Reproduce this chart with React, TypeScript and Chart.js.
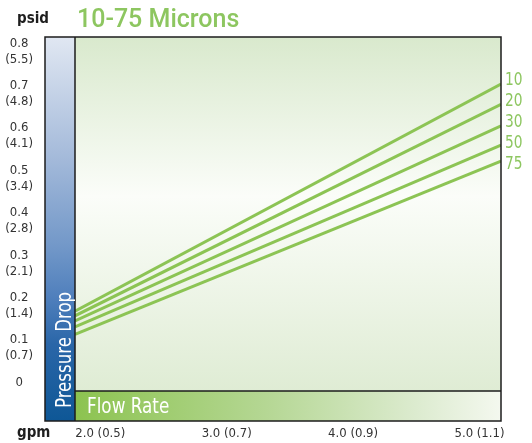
import React, { useEffect, useRef } from "react";
import { Chart, registerables } from "chart.js";

Chart.register(...registerables);

// ---- data ----
const flowGpm = [1.8, 5.17];
const seriesNames = ["10", "20", "30", "50", "75"];
const micron10 = [0.168, 0.704];
const micron20 = [0.157, 0.656];
const micron30 = [0.145, 0.605];
const micron50 = [0.131, 0.56];
const micron75 = [0.113, 0.522];
const seriesValues = [micron10, micron20, micron30, micron50, micron75];

const psidTicks = [0, 0.1, 0.2, 0.3, 0.4, 0.5, 0.6, 0.7, 0.8];
const psidLabels = ["0", "0.1", "0.2", "0.3", "0.4", "0.5", "0.6", "0.7", "0.8"];
const barLabels = ["", "(0.7)", "(1.4)", "(2.1)", "(2.8)", "(3.4)", "(4.1)", "(4.8)", "(5.5)"];
const gpmTicks = [2, 3, 4, 5];
const gpmLabels = ["2.0", "3.0", "4.0", "5.0"];
const lpsLabels = ["(0.5)", "(0.7)", "(0.9)", "(1.1)"];

const titleText = "10-75 Microns";
const yUnit = "psid";
const xUnit = "gpm";
const yBandText = "Pressure Drop";
const xBandText = "Flow Rate";

// ---- styles ----
const NARROW = "'Liberation Sans Narrow', 'DejaVu Sans Condensed', Roboto, sans-serif";
const GREEN_TEXT = "#8dc660";
const GREEN_LINE = "#8cc454";
const FRAME_LEFT = 45;
const BAND_H = 30;

const decor = {
  id: "decor",
  beforeDatasetsDraw(chart: any) {
    const { ctx, chartArea: ca } = chart;
    const bandTop = ca.bottom - BAND_H;
    ctx.save();
    const g = ctx.createLinearGradient(0, ca.top, 0, bandTop);
    g.addColorStop(0, "#d9e9cd");
    g.addColorStop(0.45, "#fbfdf9");
    g.addColorStop(1, "#dfecd4");
    ctx.fillStyle = g;
    ctx.fillRect(ca.left, ca.top, ca.right - ca.left, bandTop - ca.top);
    const b = ctx.createLinearGradient(0, ca.top, 0, ca.bottom);
    b.addColorStop(0, "#e0e7f2");
    b.addColorStop(0.3, "#a7bcdb");
    b.addColorStop(0.55, "#7197c8");
    b.addColorStop(0.68, "#4f7fbc");
    b.addColorStop(0.8, "#2a66a8");
    b.addColorStop(1, "#0e5796");
    ctx.fillStyle = b;
    ctx.fillRect(FRAME_LEFT, ca.top, ca.left - FRAME_LEFT, ca.bottom - ca.top);
    const gb = ctx.createLinearGradient(ca.left, 0, ca.right, 0);
    gb.addColorStop(0, "#8cc350");
    gb.addColorStop(0.45, "#b5d794");
    gb.addColorStop(0.8, "#dcebcf");
    gb.addColorStop(1, "#f4f8ef");
    ctx.fillStyle = gb;
    ctx.fillRect(ca.left, bandTop, ca.right - ca.left, BAND_H);
    ctx.restore();
  },
  afterDraw(chart: any) {
    const { ctx, chartArea: ca } = chart;
    const bandTop = ca.bottom - BAND_H;
    ctx.save();
    ctx.strokeStyle = "#1c1c1c";
    ctx.lineWidth = 1.5;
    ctx.strokeRect(FRAME_LEFT, ca.top, ca.right - FRAME_LEFT, ca.bottom - ca.top);
    ctx.beginPath();
    ctx.moveTo(ca.left, ca.top);
    ctx.lineTo(ca.left, ca.bottom);
    ctx.moveTo(ca.left, bandTop);
    ctx.lineTo(ca.right, bandTop);
    ctx.stroke();

    ctx.fillStyle = GREEN_TEXT;
    ctx.font = "500 25px Roboto, sans-serif";
    ctx.textAlign = "left";
    ctx.textBaseline = "alphabetic";
    ctx.fillText(titleText, 77, 27);

    ctx.fillStyle = "#1e1e1e";
    ctx.font = `bold 15px ${NARROW}`;
    ctx.fillText(yUnit, 17, 23);
    ctx.fillText(xUnit, 17, 437);

    ctx.fillStyle = "#ffffff";
    ctx.font = `22px ${NARROW}`;
    ctx.save();
    ctx.translate(87, 412.5);
    ctx.scale(0.85, 1);
    ctx.fillText(xBandText, 0, 0);
    ctx.restore();
    ctx.save();
    ctx.translate(70.5, 408);
    ctx.rotate(-Math.PI / 2);
    ctx.scale(0.84, 1);
    ctx.fillText(yBandText, 0, 0);
    ctx.restore();

    const meta0 = chart.getDatasetMeta(0);
    const last = meta0.data[meta0.data.length - 1];
    ctx.fillStyle = GREEN_TEXT;
    ctx.font = `17px ${NARROW}`;
    ctx.textBaseline = "middle";
    seriesNames.forEach((name, i) => {
      ctx.save();
      ctx.translate(ca.right + 4, last.y - 3.3 + i * 21);
      ctx.scale(0.9, 1);
      ctx.fillText(name, 0, 0);
      ctx.restore();
    });
    ctx.restore();
  },
};

function zeroPad(s: any) {
  s.paddingTop = 0;
  s.paddingBottom = 0;
  s.paddingLeft = 0;
  s.paddingRight = 0;
}

export default function App() {
  const ref = useRef<HTMLCanvasElement | null>(null);
  useEffect(() => {
    if (!ref.current) return;
    const chart = new Chart(ref.current, {
      type: "line",
      data: {
        datasets: seriesValues.map((vals, i) => ({
          label: seriesNames[i],
          data: flowGpm.map((x, j) => ({ x, y: vals[j] })),
          borderColor: GREEN_LINE,
          borderWidth: 3,
          pointRadius: 0,
          fill: false,
          tension: 0,
        })),
      },
      options: {
        responsive: false,
        animation: false,
        devicePixelRatio: 1,
        layout: { padding: { top: 37, right: 31, left: 0, bottom: 0 } },
        plugins: {
          legend: { display: false },
          tooltip: { enabled: false },
          title: { display: false },
        },
        scales: {
          x: {
            type: "linear",
            min: 1.8,
            max: 5.17,
            grid: { display: false },
            border: { display: false },
            afterBuildTicks: (s: any) => {
              s.ticks = gpmTicks.map((v) => ({ value: v }));
            },
            afterFit: (s: any) => {
              s.height = 22;
              zeroPad(s);
            },
            ticks: {
              autoSkip: false,
              maxRotation: 0,
              padding: -3,
              color: "#333",
              font: { family: NARROW, size: 13, lineHeight: 1.2 },
              callback: (_v: any, i: number) => `${gpmLabels[i]} ${lpsLabels[i]}`,
            },
          },
          y: {
            type: "linear",
            min: -0.0913,
            max: 0.8149,
            grid: { display: false },
            border: { display: false },
            afterBuildTicks: (s: any) => {
              s.ticks = psidTicks.map((v) => ({ value: v }));
            },
            afterFit: (s: any) => {
              s.width = 75;
              zeroPad(s);
            },
            ticks: {
              autoSkip: false,
              crossAlign: "center",
              padding: 34,
              labelOffset: 8,
              color: "#333",
              font: { family: NARROW, size: 13, lineHeight: 16 / 13 },
              callback: (_v: any, i: number) => [psidLabels[i], barLabels[i]],
            },
          },
        },
      },
      plugins: [decor],
    } as any);
    return () => chart.destroy();
  }, []);
  return (
    <div style={{ position: "absolute", left: 0, top: 0, width: 532, height: 443 }}>
      <canvas ref={ref} width={532} height={443} style={{ display: "block" }} />
    </div>
  );
}
